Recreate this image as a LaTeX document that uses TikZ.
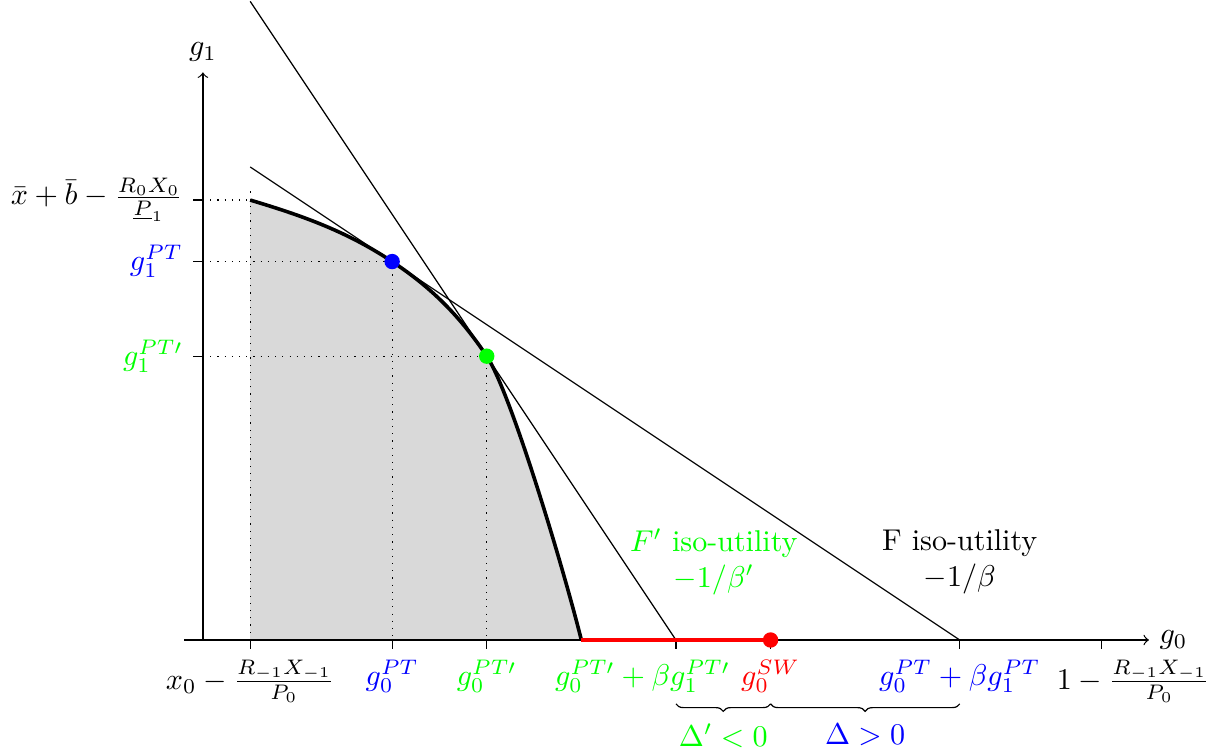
\documentclass[tikz,border=0pt]{standalone}
\usepackage{amsmath}
\usetikzlibrary{decorations.pathreplacing}
\begin{document}
\begin{tikzpicture}[x=0.553cm, y=0.553cm,
      axis/.style={->},
      guide/.style={dotted},
      frontier/.style={very thick},
      ball/.style={circle, fill, inner sep=0pt, minimum size=1.8mm},
      lbl/.style={below},
      bracedown/.style={decorate, decoration={brace, mirror, amplitude=2.5pt}}]
    \useasboundingbox (-4.29,-2.39) rectangle (21.48,13.53);
    \coordinate (O) at (0,0);
    \coordinate (top) at (1,9.3);
    \coordinate (corner) at (8,0);
    \coordinate (Ftop) at (1,10);
    \coordinate (Fbase) at (16,0);
    \coordinate (Fptop) at (1,13.5);
    \coordinate (Fpbase) at (10,0);
    \def\frontierpath{(top) .. controls (2,9.0) and (3,8.667) .. (4,8)
      .. controls (4.667,7.556) and (5.333,7) .. (6,6)
      .. controls (6.5,5.25) and (7.6,1.6) .. (corner)}
    \fill[gray!30] (1,0) -- \frontierpath -- cycle;
    \draw[guide] (0,9.3) -- (top); \draw[guide] (1,0) -- (1,9.55);
    \draw[guide] (0,8) -- (4,8) -- (4,0);
    \draw[guide] (0,6) -- (6,6) -- (6,0);
    \draw[axis] (-0.4,0) -- (20,0) node[right] (xlab) {$g_0$};
    \draw[axis] (O) -- (0,12) node[above] (ylab) {$g_1$};
    \foreach \x in {1,4,6,10,12,16,19} \draw (\x,0) -- (\x,-0.2);
    \foreach \y in {9.3,8,6} \draw (0,\y) -- (-0.2,\y);
    \draw (Ftop) -- (Fbase);
    \draw (Fptop) -- (Fpbase);
    \draw[frontier] \frontierpath;
    \draw[red, very thick] (corner) -- (12,0);
    \node[ball, blue] (PT) at (4,8) {};
    \node[ball, green] (PTp) at (6,6) {};
    \node[ball, red] (SW) at (12,0) {};
    \node[left] (yA) at (-0.2,9.3) {$\bar{x}+\bar{b}-\frac{R_0X_0}{\underline{P}_1}$};
    \node[left, blue] (yB) at (-0.2,8) {$g_1^{PT}$};
    \node[left, green] (yC) at (-0.2,6) {$g_1^{PT\prime}$};
    \node[lbl] (xA) at (1,-0.2) {$x_0-\frac{R_{-1}X_{-1}}{P_0}$};
    \node[lbl, blue] (xB) at (4,-0.2) {$g_0^{PT}$};
    \node[lbl, green] (xC) at (6,-0.2) {$g_0^{PT\prime}$};
    \node[lbl, green, xshift=-0.39cm] (xD) at (10,-0.2) {$g_0^{PT\prime}+\beta g_1^{PT\prime}$};
    \node[lbl, red] (xE) at (12,-0.2) {$g_0^{SW}$};
    \node[lbl, blue] (xF) at (16,-0.2) {$g_0^{PT}+\beta g_1^{PT}$};
    \node[lbl, xshift=0.37cm] (xG) at (19,-0.2) {$1-\frac{R_{-1}X_{-1}}{P_0}$};
    \node[green, align=center] (isoFp) at (10.8,1.65) {$F'$ iso-utility\\$-1/\beta'$};
    \node[align=center] (isoF) at (16,1.65) {F iso-utility\\$-1/\beta$};
    \draw[bracedown] (10,-1.35) -- (12,-1.35) node[midway, below=3pt, green] (dA) {$\Delta'<0$};
    \draw[bracedown] (12,-1.35) -- (16,-1.35) node[midway, below=3pt, blue] (dB) {$\Delta>0$};
  \end{tikzpicture}
\end{document}
